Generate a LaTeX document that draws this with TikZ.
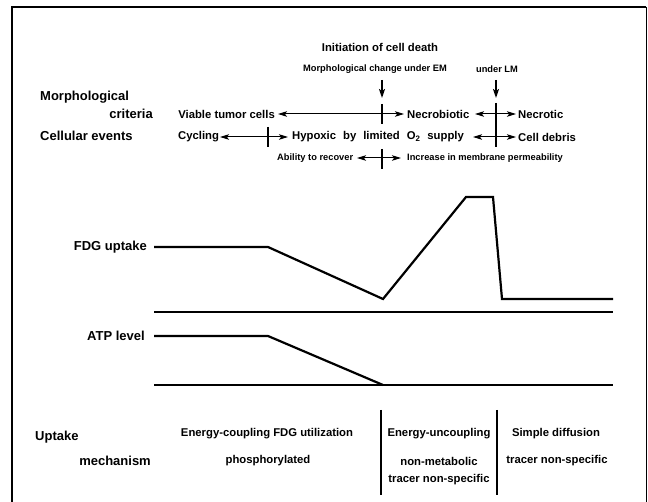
\documentclass[tikz,border=0pt]{standalone}
\usepackage{fontspec}
\setmainfont{Liberation Sans}
\usetikzlibrary{arrows.meta}
\begin{document}
\begin{tikzpicture}[x=1pt,y=-1pt,
  big/.style={font=\bfseries\fontsize{13}{15}\selectfont, inner sep=0pt},
  mid/.style={font=\bfseries\fontsize{11.3}{13}\selectfont, inner sep=0pt},
  small/.style={font=\bfseries\fontsize{9.3}{11}\selectfont, inner sep=0pt},
  arr/.style={-{Stealth[length=9pt,width=6pt,inset=2pt]}, line width=1.6pt},
  darr/.style={{Stealth[length=9pt,width=5.5pt,inset=2pt]}-{Stealth[length=9pt,width=5.5pt,inset=2pt]}, line width=1pt},
  tickline/.style={line width=1.6pt},
  curve/.style={line width=2.2pt, line join=miter},
  axisline/.style={line width=1.3pt},
  divline/.style={line width=1.2pt}]
\useasboundingbox (0,0) rectangle (648,502);
% frame
\coordinate (fbl) at (12,502);
\coordinate (ftl) at (12,7);
\coordinate (ftr) at (646,7);
\coordinate (fbr) at (646,502);
\draw[line width=1.6pt] (fbl) -- (ftl) -- (ftr);
\draw[line width=0.8pt] (ftr) -- (fbr);

% top labels
\node[mid] (init) at (380,47) {Initiation of cell death};
\node[small] (em) at (375,69) {Morphological change under EM};
\node[small] (lm) at (497,69) {under LM};
\coordinate (d1s) at (382,80); \coordinate (d1e) at (382,98);
\coordinate (d2s) at (496,80); \coordinate (d2e) at (496,98);
\draw[arr] (d1s) -- (d1e);
\draw[arr] (d2s) -- (d2e);

% left labels
\node[big, anchor=west] (morph) at (40,97) {Morphological};
\node[big, anchor=east] (crit) at (153,114) {criteria};
\node[big, anchor=west] (cell) at (40,136) {Cellular events};

% row 1
\node[mid, anchor=east] (viable) at (275,114) {Viable tumor cells};
\node[mid, anchor=west] (necrob) at (407,114) {Necrobiotic};
\node[mid, anchor=west] (necrot) at (518,114) {Necrotic};
\coordinate (r1al) at (278,114); \coordinate (r1ar) at (404,114);
\coordinate (r1bl) at (475,114); \coordinate (r1br) at (516,114);
\draw[darr] (r1al) -- (r1ar);
\draw[darr] (r1bl) -- (r1br);
\coordinate (t1a) at (382,104); \coordinate (t1b) at (382,124);
\draw[tickline] (t1a) -- (t1b);
\coordinate (t2a) at (496,103); \coordinate (t2b) at (496,147);
\draw[tickline] (t2a) -- (t2b);

% row 2
\node[mid, anchor=west] (cyc) at (178,137) {Cycling};
\node[mid, anchor=west] (hyp) at (292,137) {Hypoxic\hspace{7pt}by\hspace{7pt}limited\hspace{7pt}O\textsubscript{2}\hspace{7pt}supply};
\node[mid, anchor=west] (debris) at (518,137) {Cell debris};
\coordinate (r2al) at (220,137); \coordinate (r2ar) at (288,137);
\coordinate (r2bl) at (473,137); \coordinate (r2br) at (516,137);
\draw[darr] (r2al) -- (r2ar);
\draw[darr] (r2bl) -- (r2br);
\coordinate (t3a) at (268,127); \coordinate (t3b) at (268,147);
\draw[tickline] (t3a) -- (t3b);

% row 3
\node[small, anchor=west] (recov) at (277,158) {Ability to recover};
\node[small, anchor=west] (perm) at (407,158) {Increase in membrane permeability};
\coordinate (r3l) at (357,158); \coordinate (r3r) at (401,158);
\draw[darr] (r3l) -- (r3r);
\coordinate (t4a) at (382,149); \coordinate (t4b) at (382,169);
\draw[tickline] (t4a) -- (t4b);

% graphs
\node[big, anchor=east] (fdg) at (147,247) {FDG uptake};
\node[big, anchor=east] (atp) at (145,336) {ATP level};
\draw[curve] (154,247) -- (268,247) -- (383,299) -- (466,197) -- (493,197) -- (502,299) -- (613,299);
\draw[axisline] (154,312) -- (613,312);
\draw[curve] (154,336) -- (268,336) -- (383,385);
\draw[axisline] (154,385) -- (613,385);

% uptake mechanism
\node[big, anchor=west] (upt) at (35,437) {Uptake};
\node[big, anchor=east] (mech) at (151,461) {mechanism};
\node[mid] (ec) at (267,434) {Energy-coupling FDG utilization};
\node[mid] (phos) at (268,461) {phosphorylated};
\node[mid] (eu) at (439,434) {Energy-uncoupling};
\node[mid] (nm) at (439,461) {non-metabolic};
\node[mid] (tn1) at (439,480) {tracer non-specific};
\node[mid] (sd) at (556,434) {Simple diffusion};
\node[mid] (tn2) at (557,461) {tracer non-specific};
\coordinate (v1a) at (381,410); \coordinate (v1b) at (381,495);
\coordinate (v2a) at (497,410); \coordinate (v2b) at (497,495);
\draw[divline] (v1a) -- (v1b);
\draw[divline] (v2a) -- (v2b);
\end{tikzpicture}
\end{document}
